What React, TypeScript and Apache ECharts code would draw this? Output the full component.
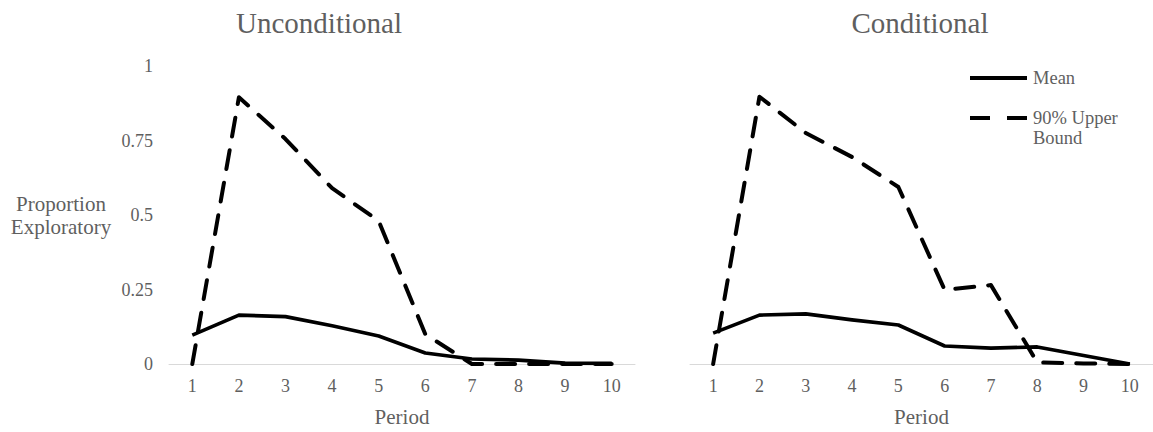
import React, { useEffect, useRef } from "react";
import * as echarts from "echarts";

const periods = ["1", "2", "3", "4", "5", "6", "7", "8", "9", "10"];
const uncondMean = [0.097, 0.164, 0.159, 0.128, 0.094, 0.037, 0.017, 0.013, 0.003, 0.002];
const uncondUpper = [0, 0.895, 0.755, 0.59, 0.48, 0.1, 0, 0, 0, 0];
const condMean = [0.103, 0.163, 0.167, 0.147, 0.13, 0.06, 0.053, 0.057, 0.028, 0];
const condUpper = [0, 0.891, 0.77, 0.69, 0.59, 0.247, 0.263, 0.005, 0.002, 0];
const chartTitles = ["Unconditional", "Conditional"];
const seriesNames = ["Mean", "90% Upper Bound"];
const yTicks = [0, 0.25, 0.5, 0.75, 1];

const FONT = "Liberation Serif";
const GREY = "#5f5f5f";

export default function App() {
  const ref = useRef<HTMLDivElement>(null);
  useEffect(() => {
    if (!ref.current) return;
    const chart = echarts.init(ref.current, undefined, { renderer: "svg" });
    const xAxisBase = (gridIndex: number) => ({
      type: "category",
      gridIndex,
      data: periods,
      boundaryGap: true,
      axisLine: { show: true, lineStyle: { color: "#d9d9d9", width: 1 } },
      axisTick: { show: false },
      axisLabel: { color: GREY, fontSize: 18, fontFamily: FONT, margin: 13 },
      name: "Period",
      nameLocation: "middle",
      nameGap: 42,
      nameTextStyle: { color: GREY, fontSize: 21, fontFamily: FONT },
      splitLine: { show: false },
    });
    const lineSeries = (name: string, data: number[], idx: number, dashed: boolean) => ({
      name,
      type: "line",
      xAxisIndex: idx,
      yAxisIndex: idx,
      data,
      symbol: "none",
      showSymbol: false,
      lineStyle: {
        color: "#000",
        width: dashed ? 4 : 3.6,
        type: dashed ? [19, 14] : "solid",
        cap: dashed ? "round" : "butt",
        join: "round",
      },
      z: dashed ? 3 : 2,
    });
    chart.setOption({
      animation: false,
      backgroundColor: "#fff",
      title: [
        {
          text: chartTitles[0],
          left: 319,
          top: 23,
          padding: 0,
          textAlign: "center",
          textVerticalAlign: "middle",
          textStyle: { color: GREY, fontSize: 29, fontWeight: "normal", fontFamily: FONT },
        },
        {
          text: chartTitles[1],
          left: 920,
          top: 23,
          padding: 0,
          textAlign: "center",
          textVerticalAlign: "middle",
          textStyle: { color: GREY, fontSize: 29, fontWeight: "normal", fontFamily: FONT },
        },
      ],
      grid: [
        { left: 169, top: 66, width: 466, height: 300 },
        { left: 690, top: 64, width: 470, height: 300 },
      ],
      xAxis: [xAxisBase(0), xAxisBase(1)],
      yAxis: [
        {
          type: "value",
          gridIndex: 0,
          min: yTicks[0],
          max: yTicks[yTicks.length - 1],
          interval: 0.25,
          axisLine: { show: false },
          axisTick: { show: false },
          splitLine: { show: false },
          axisLabel: { color: GREY, fontSize: 18, fontFamily: FONT, margin: 16 },
          name: "Proportion\nExploratory",
          nameLocation: "middle",
          nameRotate: 0,
          nameGap: 108,
          nameTextStyle: {
            color: GREY,
            fontSize: 21,
            fontFamily: FONT,
            align: "center",
            lineHeight: 23,
          },
        },
        {
          type: "value",
          gridIndex: 1,
          min: 0,
          max: 1,
          interval: 0.25,
          show: false,
          splitLine: { show: false },
        },
      ],
      graphic: [
        {
          type: "line",
          shape: { x1: 970, y1: 78, x2: 1027, y2: 78 },
          style: { stroke: "#000", lineWidth: 4 },
        },
        {
          type: "line",
          shape: { x1: 970, y1: 118, x2: 1027, y2: 118 },
          style: { stroke: "#000", lineWidth: 4, lineDash: [20, 17] },
        },
        {
          type: "text",
          x: 1033,
          y: 78,
          style: {
            text: seriesNames[0],
            fill: GREY,
            fontSize: 18.5,
            fontFamily: FONT,
            verticalAlign: "middle",
          },
        },
        {
          type: "text",
          x: 1033,
          y: 108,
          style: {
            text: "90% Upper\nBound",
            fill: GREY,
            fontSize: 18.5,
            lineHeight: 20,
            fontFamily: FONT,
            verticalAlign: "top",
          },
        },
      ],
      series: [
        lineSeries(seriesNames[0], uncondMean, 0, false),
        lineSeries(seriesNames[1], uncondUpper, 0, true),
        lineSeries(seriesNames[0], condMean, 1, false),
        lineSeries(seriesNames[1], condUpper, 1, true),
      ],
    });
    return () => chart.dispose();
  }, []);
  return (
    <div
      ref={ref}
      style={{ position: "fixed", left: 0, top: 0, width: 1153, height: 432 }}
    />
  );
}
